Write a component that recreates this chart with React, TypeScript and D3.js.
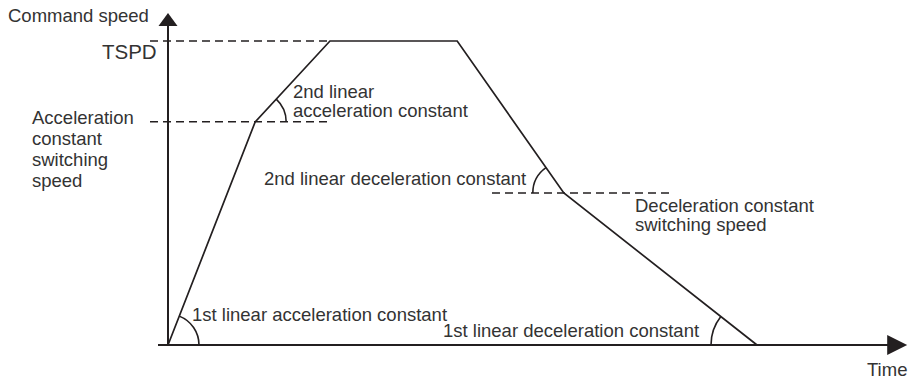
import React from "react";
import * as d3 from "d3";

// Speed profile (time normalised so the profile ends at 1, speed normalised so TSPD = 1)
const profileTimes = [0, 0.148, 0.275, 0.491, 0.672, 1.0];
const profileSpeeds = [0, 0.734, 1.0, 1.0, 0.5, 0];
const accelSwitchSpeed = 0.734;
const decelSwitchSpeed = 0.5;
const tspd = 1.0;
const axisTimeMax = 1.255;
const axisSpeedMax = 1.092;

const yLabel = "Command speed";
const xLabel = "Time";
const tspdLabel = "TSPD";
const accelSwitchLabel = ["Acceleration", "constant", "switching", "speed"];
const decelSwitchLabel = ["Deceleration constant", "switching speed"];
const accel2Label = ["2nd linear", "acceleration constant"];
const decel2Label = "2nd linear deceleration constant";
const accel1Label = "1st linear acceleration constant";
const decel1Label = "1st linear deceleration constant";

const W = 912;
const H = 383;
const ink = "#231f20";
const textInk = "#333";
const font = "'Liberation Sans', Arial, Helvetica, sans-serif";

export default function App() {
  const x = d3.scaleLinear().domain([0, 1]).range([168, 757]);
  const y = d3.scaleLinear().domain([0, 1]).range([345, 41]);

  const pts: [number, number][] = profileTimes.map((t, i) => [x(t), y(profileSpeeds[i])]);
  const line = d3.line()(pts) as string;

  const x0 = x(0), y0 = y(0);
  const xEnd = x(axisTimeMax), yTop = y(axisSpeedMax);

  const arcPath = (cx: number, cy: number, r: number, a0: number, a1: number, ccw: boolean) => {
    const p = d3.path();
    p.moveTo(cx + r * Math.cos(a0), cy + r * Math.sin(a0));
    p.arc(cx, cy, r, a0, a1, ccw);
    return p.toString();
  };
  const ang = (a: [number, number], b: [number, number]) => Math.atan2(b[1] - a[1], b[0] - a[0]);

  const a1 = ang(pts[0], pts[1]);
  const a2 = ang(pts[1], pts[2]);
  let a3 = ang(pts[4], pts[3]);
  if (a3 < 0) a3 += 2 * Math.PI;
  let a4 = ang(pts[5], pts[4]);
  if (a4 < 0) a4 += 2 * Math.PI;

  const arcs = [
    arcPath(pts[0][0], pts[0][1], 31, 0, a1, true),
    arcPath(pts[1][0], pts[1][1], 31, 0, a2, true),
    arcPath(pts[4][0], pts[4][1], 31, Math.PI, a3, false),
    arcPath(pts[5][0], pts[5][1], 46, Math.PI, a4, false),
  ];

  const dash = "8,5";
  const fs = 18.5;

  return (
    <svg width={W} height={H} style={{ position: "absolute", left: 0, top: 0, background: "#fff" }}
      fontFamily={font}>
      {/* dashed reference lines */}
      <line x1={150} x2={x(profileTimes[2])} y1={y(tspd)} y2={y(tspd)} stroke={ink} strokeWidth={1.5} strokeDasharray={dash} />
      <line x1={150} x2={332} y1={y(accelSwitchSpeed)} y2={y(accelSwitchSpeed)} stroke={ink} strokeWidth={1.5} strokeDasharray={dash} />
      <line x1={492} x2={673} y1={y(decelSwitchSpeed)} y2={y(decelSwitchSpeed)} stroke={ink} strokeWidth={1.5} strokeDasharray={dash} />

      {/* axes */}
      <line x1={x0} x2={x0} y1={y0} y2={yTop + 12} stroke={ink} strokeWidth={2} />
      <polygon points={`${x0},${yTop} ${x0 - 9.5},${yTop + 13} ${x0 + 9.5},${yTop + 13}`} fill={ink} />
      <line x1={158} x2={xEnd - 19} y1={y0} y2={y0} stroke={ink} strokeWidth={2} />
      <polygon points={`${xEnd},${y0} ${xEnd - 20},${y0 - 10} ${xEnd - 20},${y0 + 10}`} fill={ink} />

      {/* profile */}
      <path d={line} fill="none" stroke={ink} strokeWidth={1.7} strokeLinejoin="miter" />
      {arcs.map((d, i) => (
        <path key={i} d={d} fill="none" stroke={ink} strokeWidth={1.6} />
      ))}

      {/* labels */}
      <g fill={textInk} fontSize={fs}>
        <text x={8} y={22}>{yLabel}</text>
        <text x={867} y={376}>{xLabel}</text>
        <text x={102} y={59} fontSize={20.5}>{tspdLabel}</text>
        {accelSwitchLabel.map((s, i) => (
          <text key={i} x={32} y={124 + i * 21}>{s}</text>
        ))}
        {decelSwitchLabel.map((s, i) => (
          <text key={i} x={635} y={212 + i * 19}>{s}</text>
        ))}
        {accel2Label.map((s, i) => (
          <text key={i} x={293} y={98 + i * 19}>{s}</text>
        ))}
        <text x={264} y={185}>{decel2Label}</text>
        <text x={192} y={321}>{accel1Label}</text>
        <text x={443} y={337}>{decel1Label}</text>
      </g>
    </svg>
  );
}
